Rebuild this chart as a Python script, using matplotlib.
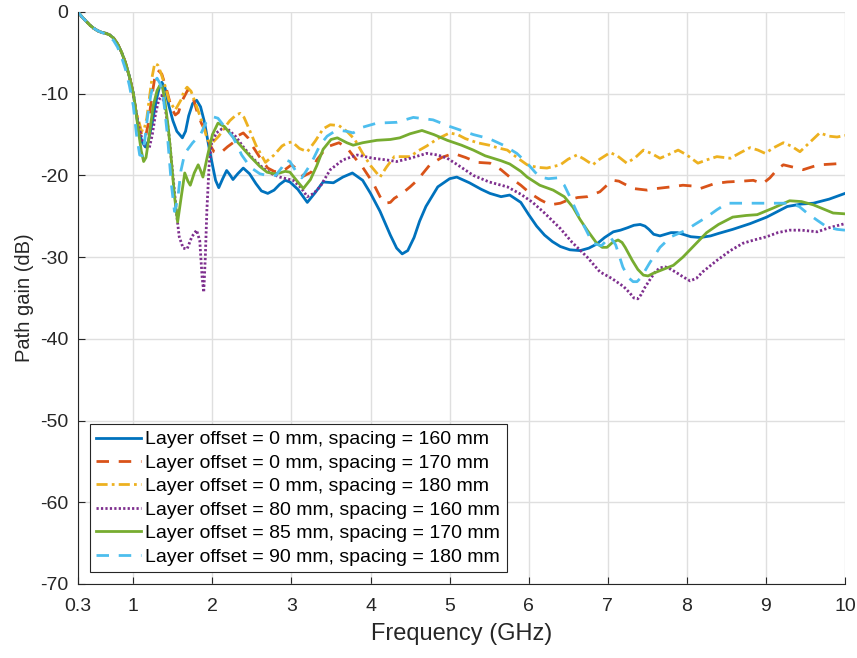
import matplotlib
matplotlib.use("Agg")
import matplotlib.pyplot as plt

plt.rcParams['font.family'] = ['Liberation Sans', 'DejaVu Sans']

common_f = [0.3, 0.35, 0.4, 0.45, 0.5, 0.55, 0.6, 0.65, 0.7, 0.75, 0.8, 0.85, 0.9, 0.95, 1.0, 1.03]
common_db = [0.0, -0.6, -1.1, -1.6, -2.0, -2.3, -2.5, -2.6, -2.8, -3.2, -3.9, -4.9, -6.2, -7.9, -10.0, -12.0]

f_blue = common_f + [1.07, 1.11, 1.15, 1.19, 1.24, 1.29, 1.33, 1.36, 1.40, 1.45, 1.50, 1.55, 1.62, 1.66,
                     1.70, 1.75, 1.80, 1.85, 1.90, 1.95, 2.00, 2.04, 2.08, 2.13, 2.18, 2.22, 2.26, 2.32,
                     2.39, 2.47, 2.55, 2.62, 2.70, 2.78, 2.85, 2.92, 2.98, 3.08, 3.20, 3.30, 3.40, 3.53,
                     3.65, 3.77, 3.90, 4.00, 4.12, 4.25, 4.33, 4.40, 4.47, 4.55, 4.62, 4.70, 4.85, 5.00,
                     5.09, 5.25, 5.40, 5.51, 5.65, 5.76, 5.90, 6.00, 6.10, 6.20, 6.30, 6.40, 6.52, 6.65,
                     6.76, 6.86, 6.96, 7.07, 7.16, 7.25, 7.33, 7.41, 7.47, 7.52, 7.58, 7.66, 7.73, 7.80,
                     7.88, 7.95, 8.05, 8.17, 8.30, 8.40, 8.58, 8.80, 9.01, 9.15, 9.27, 9.45, 9.60, 9.80,
                     10.0]
db_blue = common_db + [-14.5, -15.9, -16.5, -15.8, -13.5, -10.8, -9.2, -8.6, -9.3, -11.5, -13.3, -14.6, -15.4, -14.6,
                       -12.7, -11.2, -10.8, -11.6, -13.5, -16.2, -18.7, -20.6, -21.5, -20.4, -19.4, -19.9, -20.5, -19.8,
                       -19.1, -19.8, -21.0, -21.9, -22.2, -21.8, -21.1, -20.6, -20.8, -21.7, -23.3, -22.1, -20.8, -20.9,
                       -20.2, -19.7, -20.6, -22.2, -24.4, -27.3, -28.9, -29.6, -29.2, -27.6, -25.6, -23.8, -21.4, -20.4,
                       -20.2, -20.9, -21.7, -22.2, -22.6, -22.4, -23.3, -24.8, -26.2, -27.3, -28.1, -28.7, -29.1, -29.2,
                       -28.9, -28.4, -27.6, -26.9, -26.7, -26.4, -26.1, -26.0, -26.2, -26.6, -27.2, -27.4, -27.2, -27.0,
                       -27.0, -27.2, -27.5, -27.6, -27.4, -27.1, -26.6, -25.9, -25.1, -24.4, -23.8, -23.5, -23.4, -22.9,
                       -22.2]

f_red = common_f + [1.07, 1.11, 1.15, 1.19, 1.23, 1.27, 1.31, 1.36, 1.42, 1.48, 1.53, 1.57, 1.62, 1.69,
                    1.75, 1.80, 1.86, 1.92, 1.97, 2.02, 2.07, 2.12, 2.19, 2.26, 2.33, 2.39, 2.45, 2.50,
                    2.60, 2.70, 2.78, 2.85, 2.93, 3.00, 3.08, 3.15, 3.25, 3.32, 3.45, 3.60, 3.70, 3.78,
                    3.90, 4.03, 4.12, 4.18, 4.25, 4.30, 4.40, 4.50, 4.59, 4.75, 4.90, 5.05, 5.20, 5.35,
                    5.51, 5.65, 5.76, 5.90, 6.02, 6.15, 6.27, 6.40, 6.50, 6.62, 6.74, 6.90, 7.00, 7.07,
                    7.14, 7.20, 7.32, 7.50, 7.62, 7.80, 7.95, 8.08, 8.17, 8.35, 8.51, 8.70, 8.84, 8.96,
                    9.05, 9.15, 9.22, 9.35, 9.47, 9.60, 9.68, 9.85, 10.0]
db_red = common_db + [-13.8, -15.2, -15.5, -13.6, -10.6, -8.1, -7.1, -7.6, -9.5, -11.7, -12.6, -12.3, -10.8, -9.5,
                      -10.3, -12.0, -13.6, -14.8, -16.3, -17.1, -17.3, -17.1, -16.5, -16.0, -15.1, -14.8, -15.4, -16.3,
                      -17.8, -19.1, -19.5, -19.6, -19.2, -18.7, -19.3, -20.1, -19.6, -18.1, -16.5, -16.0, -16.6, -17.6,
                      -19.0, -20.9, -22.6, -23.4, -23.3, -22.8, -22.2, -21.4, -20.6, -18.7, -17.8, -17.3, -17.8, -18.4,
                      -18.5, -19.3, -20.2, -21.2, -22.2, -23.0, -23.6, -23.4, -23.0, -22.7, -22.6, -22.0, -21.1, -20.6,
                      -20.7, -21.0, -21.6, -21.8, -21.6, -21.4, -21.2, -21.3, -21.6, -21.0, -20.8, -20.7, -20.6, -21.0,
                      -20.3, -19.2, -18.7, -19.0, -19.3, -18.9, -18.7, -18.6, -18.5]

f_yellow = common_f + [1.07, 1.10, 1.13, 1.17, 1.21, 1.24, 1.27, 1.31, 1.35, 1.40, 1.45, 1.53, 1.60, 1.64,
                       1.68, 1.73, 1.78, 1.87, 1.94, 2.00, 2.08, 2.15, 2.22, 2.30, 2.35, 2.40, 2.45, 2.55,
                       2.67, 2.78, 2.88, 2.95, 3.01, 3.10, 3.20, 3.30, 3.40, 3.49, 3.60, 3.70, 3.80, 3.90,
                       4.00, 4.12, 4.20, 4.30, 4.40, 4.50, 4.60, 4.71, 4.85, 5.00, 5.10, 5.20, 5.35, 5.50,
                       5.60, 5.73, 5.85, 5.98, 6.10, 6.23, 6.40, 6.50, 6.61, 6.70, 6.81, 6.90, 7.03, 7.12,
                       7.24, 7.35, 7.45, 7.55, 7.66, 7.78, 7.89, 8.00, 8.14, 8.25, 8.38, 8.55, 8.68, 8.80,
                       8.90, 8.99, 9.10, 9.22, 9.32, 9.43, 9.55, 9.68, 9.80, 9.90, 10.0]
db_yellow = common_db + [-13.4, -14.5, -14.6, -13.0, -10.0, -7.8, -6.3, -6.5, -7.5, -9.0, -10.8, -12.0, -10.8, -9.7,
                         -9.2, -9.7, -11.0, -13.5, -15.7, -16.0, -15.2, -14.2, -13.3, -12.6, -12.4, -12.9, -14.0, -16.3,
                         -18.4, -17.5, -16.4, -16.0, -15.9, -16.7, -17.1, -15.8, -14.3, -13.8, -13.9, -14.6, -15.6, -17.3,
                         -18.8, -20.2, -19.0, -17.7, -17.7, -17.7, -17.0, -16.4, -15.5, -14.8, -15.0, -15.5, -16.0, -16.3,
                         -16.6, -16.9, -17.8, -18.7, -19.0, -19.1, -18.7, -18.0, -17.5, -18.0, -18.7, -18.0, -17.2, -17.6,
                         -18.5, -17.8, -16.9, -17.3, -17.9, -17.4, -16.9, -17.5, -18.5, -18.1, -17.7, -17.9, -17.2, -16.6,
                         -16.9, -17.3, -16.6, -16.0, -16.4, -17.1, -16.0, -14.8, -15.2, -15.3, -15.1]

f_purple = common_f + [1.07, 1.11, 1.15, 1.20, 1.24, 1.28, 1.32, 1.36, 1.40, 1.45, 1.49, 1.52, 1.55, 1.58,
                       1.63, 1.68, 1.74, 1.80, 1.84, 1.87, 1.89, 1.91, 1.93, 1.96, 1.99, 2.05, 2.12, 2.18,
                       2.30, 2.39, 2.50, 2.64, 2.75, 2.85, 3.02, 3.12, 3.20, 3.28, 3.36, 3.49, 3.65, 3.83,
                       4.03, 4.20, 4.33, 4.50, 4.71, 4.85, 4.97, 5.10, 5.30, 5.50, 5.73, 5.90, 6.05, 6.20,
                       6.40, 6.55, 6.74, 6.90, 7.05, 7.20, 7.28, 7.33, 7.38, 7.42, 7.47, 7.53, 7.60, 7.66,
                       7.73, 7.80, 7.87, 7.95, 8.04, 8.12, 8.20, 8.38, 8.55, 8.71, 8.85, 9.01, 9.15, 9.30,
                       9.45, 9.65, 9.80, 10.0]
db_purple = common_db + [-14.0, -15.6, -16.5, -16.7, -15.0, -12.5, -10.8, -10.2, -11.5, -15.0, -19.0, -22.0, -25.0, -27.5,
                         -28.9, -29.0, -27.5, -26.7, -28.0, -32.5, -34.3, -30.0, -24.2, -18.5, -16.0, -14.8, -14.3, -14.2,
                         -15.3, -16.5, -17.8, -19.1, -19.8, -20.2, -20.6, -21.5, -22.6, -22.2, -21.4, -19.3, -18.1, -17.5,
                         -17.9, -18.1, -18.3, -17.9, -17.3, -17.5, -17.9, -18.7, -20.0, -20.8, -21.4, -22.3, -23.3, -24.6,
                         -26.5, -28.2, -30.0, -31.8, -32.6, -33.6, -34.4, -35.0, -35.1, -34.6, -33.7, -32.8, -31.8, -31.3,
                         -31.2, -31.5, -31.9, -32.4, -32.9, -32.6, -31.8, -30.4, -29.2, -28.3, -27.9, -27.5, -27.0, -26.7,
                         -26.7, -26.9, -26.4, -25.9]

f_green = common_f + [1.07, 1.10, 1.13, 1.16, 1.20, 1.25, 1.30, 1.34, 1.37, 1.40, 1.44, 1.47, 1.52, 1.56,
                      1.60, 1.65, 1.69, 1.72, 1.77, 1.82, 1.85, 1.88, 1.94, 2.00, 2.07, 2.15, 2.26, 2.37,
                      2.48, 2.60, 2.69, 2.78, 2.85, 2.92, 2.98, 3.08, 3.15, 3.24, 3.32, 3.40, 3.50, 3.58,
                      3.70, 3.78, 3.90, 4.08, 4.25, 4.37, 4.50, 4.65, 4.80, 4.97, 5.15, 5.30, 5.45, 5.55,
                      5.65, 5.76, 5.90, 5.98, 6.14, 6.31, 6.45, 6.56, 6.65, 6.74, 6.86, 6.93, 6.99, 7.06,
                      7.13, 7.18, 7.22, 7.31, 7.38, 7.45, 7.51, 7.57, 7.70, 7.83, 7.95, 8.10, 8.25, 8.40,
                      8.58, 8.75, 8.89, 9.09, 9.30, 9.45, 9.60, 9.75, 9.85, 10.0]
db_green = common_db + [-15.0, -17.0, -18.3, -17.8, -15.2, -11.5, -9.6, -8.9, -9.3, -11.0, -14.0, -17.0, -22.5, -25.7,
                        -23.0, -19.7, -20.7, -21.2, -19.7, -18.7, -19.4, -20.2, -17.5, -15.0, -13.6, -14.0, -15.3, -16.5,
                        -17.7, -18.9, -19.6, -19.8, -19.7, -19.5, -19.6, -20.8, -21.6, -20.5, -18.8, -16.8, -15.6, -15.4,
                        -16.0, -16.3, -16.0, -15.7, -15.6, -15.4, -14.9, -14.5, -15.0, -15.7, -16.3, -16.9, -17.6, -17.9,
                        -18.2, -18.6, -19.5, -20.2, -21.2, -21.8, -22.6, -23.9, -25.4, -26.7, -28.3, -28.8, -28.8, -28.2,
                        -27.9, -28.2, -28.8, -30.4, -31.5, -32.2, -32.3, -32.0, -31.5, -31.0, -30.0, -28.5, -27.0, -26.0,
                        -25.1, -24.9, -24.8, -24.0, -23.1, -23.2, -23.6, -24.2, -24.6, -24.7]

f_cyan = [0.3, 0.35, 0.4, 0.45, 0.5, 0.55, 0.6, 0.65, 0.7, 0.75, 0.8, 0.85, 0.9, 0.95, 1.00, 1.04,
          1.08, 1.11, 1.14, 1.18, 1.22, 1.26, 1.30, 1.34, 1.38, 1.43, 1.48, 1.52, 1.56, 1.60, 1.65,
          1.75, 1.85, 1.92, 2.00, 2.07, 2.15, 2.26, 2.37, 2.48, 2.60, 2.69, 2.80, 2.88, 2.93, 2.98,
          3.05, 3.13, 3.25, 3.36, 3.45, 3.53, 3.62, 3.70, 3.78, 3.90, 4.08, 4.33, 4.54, 4.79, 5.00,
          5.30, 5.50, 5.68, 5.85, 5.98, 6.08, 6.14, 6.25, 6.36, 6.45, 6.52, 6.60, 6.69, 6.81, 6.92,
          7.03, 7.10, 7.19, 7.26, 7.32, 7.37, 7.42, 7.53, 7.66, 7.80, 7.99, 8.10, 8.25, 8.38, 8.51,
          8.80, 9.09, 9.30, 9.42, 9.52, 9.65, 9.77, 9.90, 10.0]
db_cyan = [0.0, -0.6, -1.1, -1.6, -2.0, -2.3, -2.5, -2.7, -3.0, -3.5, -4.3, -5.5, -7.0, -9.0, -11.5, -15.0,
           -17.5, -17.6, -16.0, -12.8, -10.2, -8.6, -8.1, -8.8, -10.5, -15.0, -21.0, -24.4, -23.0, -19.5, -17.3,
           -16.0, -15.0, -13.5, -12.8, -13.0, -14.0, -15.3, -17.5, -19.0, -19.8, -20.0, -20.0, -19.0, -18.1, -18.3,
           -19.4, -20.3, -18.5, -16.3, -15.2, -14.7, -14.5, -14.6, -14.8, -14.1, -13.6, -13.5, -12.9, -13.2, -14.0,
           -15.0, -15.5, -16.3, -17.3, -18.5, -19.6, -20.2, -20.4, -20.3, -21.2, -22.6, -24.3, -26.0, -28.3, -28.6,
           -27.5, -28.5, -31.2, -32.5, -33.0, -33.0, -32.5, -30.7, -28.8, -27.5, -26.7, -26.0, -25.1, -24.2, -23.4,
           -23.4, -23.4, -23.4, -23.8, -24.6, -25.5, -26.3, -26.6, -26.7]

labels = ["Layer offset = 0 mm, spacing = 160 mm",
          "Layer offset = 0 mm, spacing = 170 mm",
          "Layer offset = 0 mm, spacing = 180 mm",
          "Layer offset = 80 mm, spacing = 160 mm",
          "Layer offset = 85 mm, spacing = 170 mm",
          "Layer offset = 90 mm, spacing = 180 mm"]

x_ticks = [0.3, 1, 2, 3, 4, 5, 6, 7, 8, 9, 10]
x_tick_labels = ["0.3", "1", "2", "3", "4", "5", "6", "7", "8", "9", "10"]
y_ticks = [-70, -60, -50, -40, -30, -20, -10, 0]

fig = plt.figure(figsize=(8.57, 6.58), dpi=100)
ax = fig.add_axes([78/857, 1-584/658, (845-78)/857, (584-12)/658])

lw = 2.0
ax.plot(f_blue, db_blue, color='#0072BD', lw=lw, ls='-', label=labels[0])
ax.plot(f_red, db_red, color='#D95319', lw=lw, ls=(0, (4.5, 3.5)), label=labels[1])
ax.plot(f_yellow, db_yellow, color='#EDB120', lw=lw, ls=(0, (4, 1.5, 1, 1.5)), label=labels[2])
ax.plot(f_purple, db_purple, color='#7E2F8E', lw=lw, ls=(0, (0.8, 0.8)), label=labels[3])
ax.plot(f_green, db_green, color='#77AC30', lw=lw, ls='-', label=labels[4])
ax.plot(f_cyan, db_cyan, color='#4DBEEE', lw=lw, ls=(0, (4.5, 3.5)), label=labels[5])

ax.set_xlim(0.3, 10)
ax.set_ylim(-70, 0)
ax.set_xticks(x_ticks)
ax.set_xticklabels(x_tick_labels)
ax.set_yticks(y_ticks)
ax.set_yticklabels([str(v) for v in y_ticks])
ax.grid(True, color='#dfdfdf', lw=1.0)
ax.set_axisbelow(True)
for s in ['top', 'right']:
    ax.spines[s].set_visible(False)
for s in ['left', 'bottom']:
    ax.spines[s].set_color('#262626')
    ax.spines[s].set_linewidth(0.8)
ax.tick_params(direction='in', length=5, width=0.8, colors='#262626', labelsize=14)
ax.tick_params(axis='x', pad=10)
ax.tick_params(axis='y', pad=7)

ax.set_xlabel("Frequency (GHz)", fontsize=17, color='#262626', labelpad=6)
ax.set_ylabel("Path gain (dB)", fontsize=14.5, color='#262626', labelpad=4)

leg = ax.legend(loc='lower left', fontsize=14, frameon=True, fancybox=False, framealpha=1,
                edgecolor='#262626', handlelength=2.3, handletextpad=0.2, labelspacing=0.3,
                borderpad=0.35, borderaxespad=0.6)
leg.get_frame().set_linewidth(0.8)

fig.savefig("out.png", dpi=100)
